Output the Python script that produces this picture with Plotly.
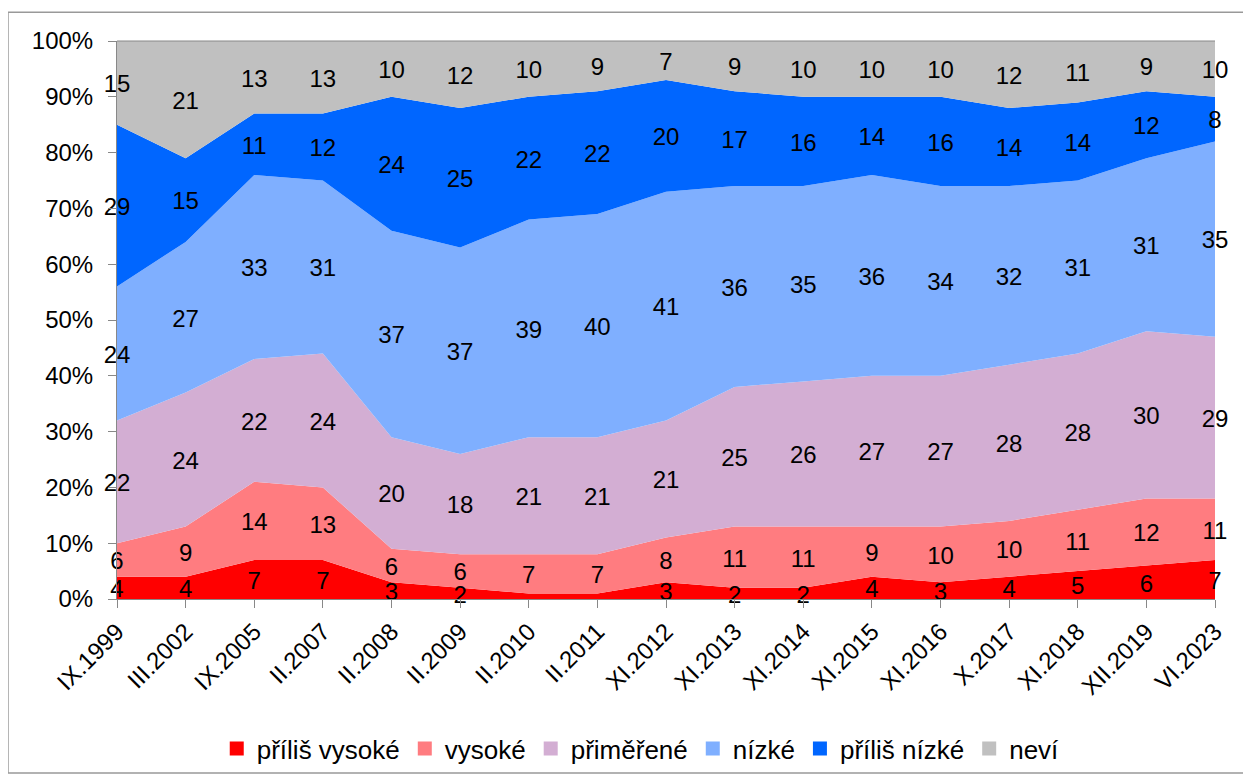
import plotly.graph_objects as go

categories = ["IX.1999", "III.2002", "IX.2005", "II.2007", "II.2008", "II.2009", "II.2010",
              "II.2011", "XI.2012", "XI.2013", "XI.2014", "XI.2015", "XI.2016", "X.2017",
              "XI.2018", "XII.2019", "VI.2023"]

prilis_vysoke = [4, 4, 7, 7, 3, 2, 1, 1, 3, 2, 2, 4, 3, 4, 5, 6, 7]
vysoke = [6, 9, 14, 13, 6, 6, 7, 7, 8, 11, 11, 9, 10, 10, 11, 12, 11]
primerene = [22, 24, 22, 24, 20, 18, 21, 21, 21, 25, 26, 27, 27, 28, 28, 30, 29]
nizke = [24, 27, 33, 31, 37, 37, 39, 40, 41, 36, 35, 36, 34, 32, 31, 31, 35]
prilis_nizke = [29, 15, 11, 12, 24, 25, 22, 22, 20, 17, 16, 14, 16, 14, 14, 12, 8]
nevi = [15, 21, 13, 13, 10, 12, 10, 9, 7, 9, 10, 10, 10, 12, 11, 9, 10]

series_names = ["příliš vysoké", "vysoké", "přiměřené", "nízké", "příliš nízké", "neví"]
series_values = [prilis_vysoke, vysoke, primerene, nizke, prilis_nizke, nevi]
colors = ["#FF0000", "#FF7C80", "#D3AED3", "#7FAFFF", "#0066FF", "#C0C0C0"]

FONT = "Liberation Sans, Arial, sans-serif"
LABEL_SHIFT = 0.6  # small downward nudge of data labels (in % units)

fig = go.Figure()
for name, vals, col in zip(series_names, series_values, colors):
    fig.add_trace(go.Scatter(
        x=categories, y=vals, name=name, stackgroup="one",
        mode="none", fillcolor=col, line=dict(width=0),
        hoverinfo="x+y+name", showlegend=False, legendgroup=name,
    ))

# legend entries as square markers
for name, col in zip(series_names, colors):
    fig.add_trace(go.Scatter(
        x=[None], y=[None], mode="markers", name=name, legendgroup=name,
        marker=dict(symbol="square", size=14, color=col),
        showlegend=True, hoverinfo="skip",
    ))

# label positions: middle of each stacked segment
cum = [0] * len(categories)
for name, vals in zip(series_names, series_values):
    mids = [c + v / 2 - LABEL_SHIFT for c, v in zip(cum, vals)]
    fig.add_trace(go.Scatter(
        x=categories, y=mids, mode="text", text=[str(v) for v in vals],
        textposition="middle center", textfont=dict(family=FONT, size=24, color="black"),
        showlegend=False, hoverinfo="skip", cliponaxis=False,
    ))
    cum = [c + v for c, v in zip(cum, vals)]

fig.update_layout(
    width=1243, height=776,
    margin=dict(l=109, r=36, t=33, b=180),
    paper_bgcolor="white", plot_bgcolor="white",
    font=dict(family=FONT, size=24, color="black"),
    showlegend=True,
    legend=dict(orientation="h", x=0.477, xanchor="center", y=-0.268, yanchor="middle",
                font=dict(family=FONT, size=26, color="black"), traceorder="normal"),
    xaxis=dict(
        type="category", range=[0, len(categories) - 1], tickangle=-45,
        showgrid=False, showline=True, linecolor="#888888", linewidth=1,
        ticks="outside", ticklen=8, tickcolor="#888888",
        tickfont=dict(family=FONT, size=24), zeroline=False,
    ),
    yaxis=dict(
        range=[0, 100], tickvals=list(range(0, 101, 10)),
        ticktext=[f"{v}%" for v in range(0, 101, 10)],
        showgrid=False, showline=True, linecolor="#888888", linewidth=1,
        ticks="outside", ticklen=8, tickcolor="#888888",
        tickfont=dict(family=FONT, size=24), zeroline=False,
        ticklabelstandoff=10,
    ),
    shapes=[
        dict(type="rect", xref="paper", yref="paper",
             x0=-0.0993, x1=1.030, y0=-0.312, y1=1.0515,
             line=dict(color="#999999", width=1.5), fillcolor="rgba(0,0,0,0)", layer="below"),
        dict(type="line", xref="paper", yref="paper", x0=0, x1=1, y0=1, y1=1,
             line=dict(color="#888888", width=1)),
    ],
)

fig.write_html("out.html")
